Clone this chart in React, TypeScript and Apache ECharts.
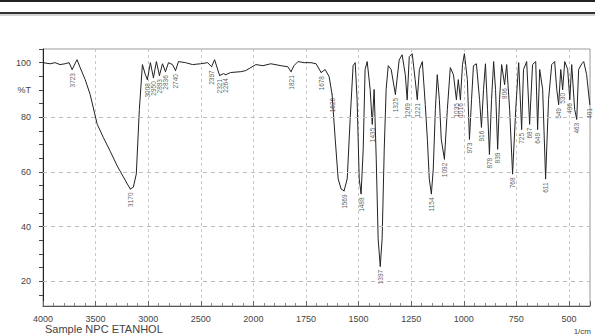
import React, { useEffect, useRef } from 'react';
import * as echarts from 'echarts';

// Spectrum (wavenumber in 1/cm, transmittance in %T)
const wavenumbers = [
  4000, 3933, 3885, 3838, 3790, 3752, 3723, 3676, 3647, 3599, 3552, 3485, 3427, 3361, 3294, 3246, 3198, 3170, 3141, 3113,
  3084, 3055, 3027, 3008, 2979, 2950, 2922, 2893, 2864, 2836, 2807, 2769, 2740, 2712, 2645, 2578, 2502, 2435, 2397, 2369,
  2321, 2283, 2264, 2216, 2120, 2073, 2025, 1988, 1955, 1917, 1869, 1836, 1821, 1807, 1788, 1759, 1726, 1702, 1678, 1659,
  1640, 1626, 1611, 1597, 1583, 1569, 1554, 1540, 1526, 1516, 1507, 1497, 1488, 1478, 1469, 1459, 1445, 1435, 1426, 1416,
  1407, 1397, 1388, 1378, 1369, 1359, 1345, 1325, 1307, 1293, 1278, 1269, 1259, 1245, 1231, 1221, 1211, 1197, 1183, 1173,
  1164, 1154, 1145, 1135, 1126, 1116, 1107, 1092, 1078, 1064, 1049, 1035, 1026, 1016, 1006, 997, 983, 973, 963, 954,
  940, 925, 916, 906, 897, 887, 878, 868, 858, 849, 839, 830, 820, 806, 796, 782, 768, 753, 739, 725,
  716, 701, 687, 673, 658, 649, 639, 625, 611, 597, 582, 568, 558, 549, 539, 530, 520, 506, 496, 487,
  473, 463, 454, 439, 430, 416, 401,
];
const transmittance = [
  100, 99.6, 100, 99.3, 99.6, 100, 97.5, 101.1, 98.2, 93.8, 88.4, 77.5, 72.7, 67.6, 62.2, 58.9, 55.6, 53.8, 54.5, 59.3,
  82.9, 99.3, 95.6, 93.8, 100, 94.5, 100.4, 95.3, 99.6, 96.7, 100, 99.3, 97.1, 100.4, 100, 99.3, 99.6, 100, 98.5, 101.1,
  95.3, 96.0, 95.6, 96.4, 96.7, 97.1, 98.2, 99.3, 98.9, 99.6, 98.9, 98.5, 96.7, 98.9, 100.4, 100, 100, 99.6, 96.4, 97.5,
  94.9, 88.4, 72, 57.5, 53.8, 53.1, 57.5, 79.3, 98.9, 100, 86.5, 57.5, 52, 68.4, 97.5, 100.4, 90.2, 77.5, 90.2, 64.7,
  35.6, 25.5, 35.6, 68.4, 90.2, 98.9, 97.5, 88.4, 101, 102.9, 95.6, 86.5, 102.2, 103.3, 93.8, 86.5, 97.5, 100.4, 84.7, 72,
  57.5, 52, 61.1, 82.9, 95.6, 86.5, 72, 64.7, 82.9, 98.2, 95.6, 86.5, 93.8, 86.5, 99.3, 103.3, 93.8, 72, 86.5, 98.9,
  99.6, 86.5, 76.4, 90.2, 99.6, 82.9, 66.5, 86.5, 100.4, 90.2, 68.4, 86.5, 99.3, 92, 99.3, 82.9, 59.3, 82.9, 100, 75.6,
  97.5, 100.4, 77.5, 99.3, 100.4, 75.6, 97.5, 90.2, 57.5, 86.5, 99.3, 100.4, 90.2, 84.7, 97.5, 90.2, 100.4, 97.5, 86.5, 99.3,
  82.9, 79.3, 97.5, 99.6, 100.4, 95.6, 84.7,
];

// Labelled absorption peaks
const peakWavenumbers = [
  3723, 3170, 3008, 2950, 2893, 2836, 2740, 2397, 2321, 2264, 1821, 1678, 1626, 1569, 1488, 1435, 1397, 1325, 1269, 1221,
  1154, 1092, 1035, 1016, 973, 916, 878, 839, 806, 768, 725, 687, 649, 611, 549, 530, 496, 463, 401,
];
const peakTransmittance = [
  97.5, 53.8, 93.8, 94.5, 95.3, 96.7, 97.1, 98.5, 95.3, 95.6, 96.7, 96.4, 88.4, 53.1, 52, 77.5, 25.5, 88.4, 86.5, 86.5,
  52, 64.7, 86.5, 86.5, 72, 76.4, 66.5, 68.4, 92, 59.3, 75.6, 77.5, 75.6, 57.5, 84.7, 90.2, 86.5, 79.3, 84.7,
];

const xTickLabels = ['4000', '3500', '3000', '2500', '2000', '1750', '1500', '1250', '1000', '750', '500'];
const yLabelValues = [20, 40, 60, 80, 90, 100];
const yGridValues = [20, 40, 60, 80];
const yTickValues = [15, 20, 25, 30, 35, 40, 45, 50, 55, 60, 65, 70, 75, 80, 85, 90, 95, 100, 105];
const yAxisTitle = '%T';
const sampleName = 'Sample NPC ETANHOL';
const unitLabel = '1/cm';

// Shimadzu style axis: 4000-2000 at 500 per division, 2000-400 at 250 per division
function toAxis(w: number): number {
  return w >= 2000 ? (4000 - w) / 500 : 4 + (2000 - w) / 250;
}

export default function App() {
  const ref = useRef<HTMLDivElement>(null);
  useEffect(() => {
    if (!ref.current) return;
    const chart = echarts.init(ref.current, undefined, { renderer: 'svg' });
    const lineData = wavenumbers.map((w, i) => [toAxis(w), transmittance[i]]);
    const peakData = peakWavenumbers.map((w, i) => [toAxis(w), peakTransmittance[i], w]);
    chart.setOption({
      animation: false,
      backgroundColor: '#fff',
      textStyle: { fontFamily: 'Liberation Sans, Arial, sans-serif' },
      grid: { left: 43, right: 5, top: 49, bottom: 30, show: true, borderColor: '#9a9a9a', borderWidth: 1 },
      xAxis: {
        type: 'value',
        min: 0,
        max: toAxis(400),
        interval: 1,
        axisLine: { lineStyle: { color: '#555', width: 1 } },
        axisTick: { inside: true, length: 5, lineStyle: { color: '#666' } },
        minorTick: { show: true, splitNumber: 5, length: 3, lineStyle: { color: '#888' } },
        splitLine: { show: true, lineStyle: { color: '#c8c8c8', type: [3, 3] } },
        axisLabel: {
          color: '#444',
          fontSize: 9,
          margin: 8,
          showMaxLabel: false,
          formatter: (v: number) => {
            const i = Math.round(v);
            return Math.abs(v - i) < 1e-6 && xTickLabels[i] ? xTickLabels[i] : '';
          },
        },
      },
      yAxis: {
        type: 'value',
        min: 11,
        max: 105,
        axisLine: { show: true, lineStyle: { color: '#222', width: 1 } },
        axisTick: { show: true, length: 4, customValues: yTickValues, lineStyle: { color: '#444' } },
        splitLine: { show: false },
        axisLabel: {
          color: '#444',
          fontSize: 9,
          margin: 12,
          customValues: yLabelValues,
          formatter: (v: number) => (v === 90 ? yAxisTitle : String(v)),
        },
      },
      series: [
        {
          type: 'line',
          data: lineData,
          showSymbol: false,
          symbol: 'none',
          lineStyle: { color: '#222', width: 1 },
          silent: true,
          markLine: {
            silent: true,
            symbol: 'none',
            label: { show: false },
            lineStyle: { color: '#bdbdbd', type: [4, 4], width: 1 },
            data: yGridValues.map((v) => ({ yAxis: v })),
          },
        },
        {
          type: 'scatter',
          data: peakData,
          symbolSize: 1,
          itemStyle: { color: '#333' },
          silent: true,
          label: {
            show: true,
            position: 'bottom',
            distance: 3,
            rotate: 90,
            align: 'right',
            verticalAlign: 'middle',
            fontSize: 6.5,
            color: '#333',
            formatter: (p: any) => String(p.value[2]),
          },
        },
      ],
      graphic: [
        { type: 'rect', shape: { x: 0, y: 0, width: 595, height: 2 }, style: { fill: '#222' } },
        { type: 'rect', shape: { x: 0, y: 12, width: 595, height: 2 }, style: { fill: '#333' } },
        { type: 'rect', shape: { x: 0, y: 14.5, width: 595, height: 1 }, style: { fill: '#aaa' } },
        { type: 'text', left: 45, top: 323, style: { text: sampleName, fontSize: 11, fill: '#444', fontFamily: 'Liberation Sans, Arial, sans-serif' } },
        { type: 'text', right: 4, top: 327, style: { text: unitLabel, fontSize: 8, fill: '#444', fontFamily: 'Liberation Sans, Arial, sans-serif' } },
      ],
    });
    return () => chart.dispose();
  }, []);
  return <div ref={ref} style={{ width: 595, height: 336, position: 'absolute', left: 0, top: 0 }} />;
}
